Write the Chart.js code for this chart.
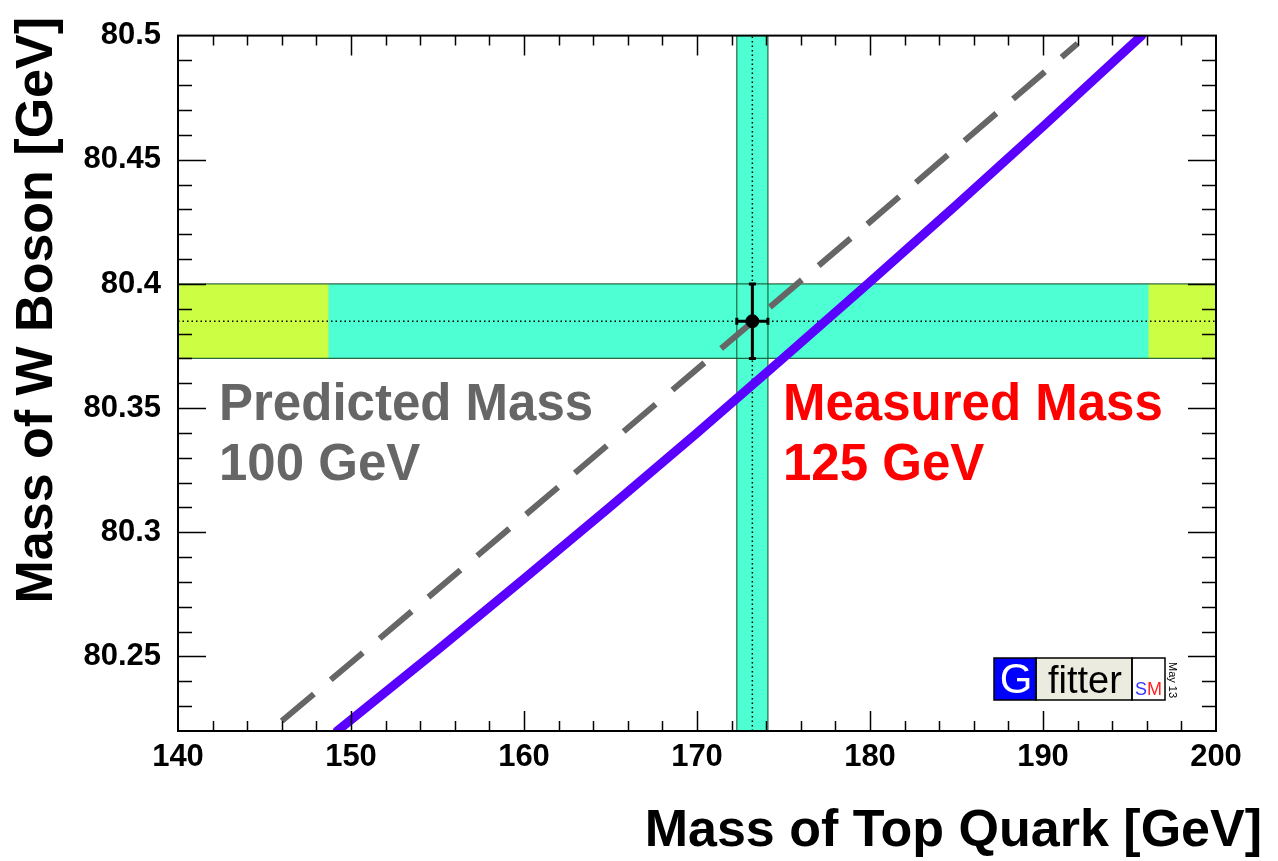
<!DOCTYPE html>
<html>
<head>
<meta charset="utf-8">
<title>Mass of W Boson vs Mass of Top Quark</title>
<script src="https://cdn.jsdelivr.net/npm/chart.js@4.4.0/dist/chart.umd.min.js"></script>
<style>
  html, body { margin: 0; padding: 0; background: #fff; }
  #wrap { width: 1278px; height: 861px; }
</style>
</head>
<body>
<div id="wrap"><canvas id="mwmt" width="1278" height="861"></canvas></div>
<script>
// axis ranges and tick labels
var xRange = [140, 200];
var yRange = [80.22, 80.5];
var xTicks = [140, 150, 160, 170, 180, 190, 200];
var yTicks = [80.25, 80.3, 80.35, 80.4, 80.45, 80.5];

// measurements: [central value, uncertainty]
var topMeas = [173.2, 0.9];
var wMeas = [80.385, 0.015];
// x extent of the inner (cyan) part of the W band
var wBandInner = [148.7, 196.1];

// SM prediction for a 125 GeV Higgs
var mt125 = [149.2, 155, 160, 165, 170, 175, 180, 185, 190, 195.7];
var mw125 = [80.22, 80.2526, 80.2813, 80.3104, 80.34, 80.3702, 80.4008, 80.4318, 80.4634, 80.5];
// SM prediction for a 100 GeV Higgs
var mt100 = [146.0, 150, 160, 170, 180, 190, 192.0];
var mw100 = [80.224, 80.2475, 80.3065, 80.3657, 80.425, 80.4848, 80.4968];

var FONT = '"Liberation Sans", Arial, Helvetica, sans-serif';
var cyan = '#4dffd2', lime = '#ccff44', edge = 'rgba(20,80,40,0.85)';

function pts(xs, ys){
  return xs.map(function(x, i){ return {x: x, y: ys[i]}; });
}
function box(x0, x1, y0, y1){
  return [{x:x0,y:y0},{x:x0,y:y1},{x:x1,y:y1},{x:x1,y:y0}];
}

var wLo = wMeas[0]-wMeas[1], wHi = wMeas[0]+wMeas[1];
var tLo = topMeas[0]-topMeas[1], tHi = topMeas[0]+topMeas[1];

function line(data, color, width, order, extra){
  var d = {data: data, showLine: true, borderColor: color, borderWidth: width,
           pointRadius: 0, fill: false, order: order};
  for (var k in extra) d[k] = extra[k];
  return d;
}

var datasets = [
  // measured point with error bars
  {data: [{x: topMeas[0], y: wMeas[0]}], pointRadius: 6.5, pointBackgroundColor: '#000',
   pointBorderColor: '#000', order: 0},
  line(pts([topMeas[0], topMeas[0]], [wLo, wHi]), '#000', 3, 1,
       {pointStyle: 'line', pointRadius: 3.5, pointBorderWidth: 3, pointBorderColor: '#000'}),
  line(pts([tLo, tHi], [wMeas[0], wMeas[0]]), '#000', 3, 1,
       {pointStyle: 'line', pointRadius: 3.5, pointBorderWidth: 3, pointBorderColor: '#000', pointRotation: 90}),
  // predictions
  line(pts(mt125, mw125), '#5a00ff', 9, 2, {borderCapStyle: 'round'}),
  line(pts(mt100, mw100), '#666666', 6, 3, {borderDash: [42, 22]}),
  // central values, dotted
  line(pts(xRange, [wMeas[0], wMeas[0]]), '#000', 1.5, 4, {borderDash: [1.5, 3]}),
  line(pts([topMeas[0], topMeas[0]], yRange), '#000', 1.5, 4, {borderDash: [1.5, 3]}),
  // band edges
  line(pts(xRange, [wHi, wHi]), edge, 1.2, 5),
  line(pts(xRange, [wLo, wLo]), edge, 1.2, 5),
  line(pts([tLo, tLo], yRange), edge, 1.2, 5),
  line(pts([tHi, tHi], yRange), edge, 1.2, 5),
  // band fills
  line(box(tLo, tHi, yRange[0], yRange[1]), 'rgba(0,0,0,0)', 0, 6, {fill: 'shape', backgroundColor: cyan}),
  line(box(wBandInner[0], wBandInner[1], wLo, wHi), 'rgba(0,0,0,0)', 0, 7, {fill: 'shape', backgroundColor: cyan}),
  line(box(xRange[0], xRange[1], wLo, wHi), 'rgba(0,0,0,0)', 0, 8, {fill: 'shape', backgroundColor: lime})
];

// ROOT-style frame with inward ticks on all four sides
var frameTicks = {
  id: 'frameTicks',
  afterDatasetsDraw: function(chart){
    var ctx = chart.ctx, a = chart.chartArea, xs = chart.scales.x, ys = chart.scales.y;
    ctx.save();
    ctx.strokeStyle = '#000';
    ctx.lineWidth = 1.5;
    ctx.beginPath();
    for (var v = xRange[0] + 2; v < xRange[1]; v += 2) {
      var px = Math.round(xs.getPixelForValue(v)) + 0.5;
      var len = (v % 10 === 0) ? 20 : 10;
      ctx.moveTo(px, a.bottom); ctx.lineTo(px, a.bottom - len);
      ctx.moveTo(px, a.top); ctx.lineTo(px, a.top + len);
    }
    for (var k = 23; k < 50; k++) {
      var py = Math.round(ys.getPixelForValue(80 + k / 100)) + 0.5;
      var l = (k % 5 === 0) ? 28 : 14;
      ctx.moveTo(a.left, py); ctx.lineTo(a.left + l, py);
      ctx.moveTo(a.right, py); ctx.lineTo(a.right - l, py);
    }
    ctx.stroke();
    ctx.lineWidth = 2;
    ctx.strokeRect(a.left, a.top, a.right - a.left, a.bottom - a.top);
    ctx.restore();
  }
};

// axis titles, annotations and the Gfitter badge
var texts = {
  id: 'texts',
  afterDraw: function(chart){
    var ctx = chart.ctx;
    ctx.save();
    ctx.fillStyle = '#000';
    ctx.font = 'bold 52px ' + FONT;
    ctx.textBaseline = 'alphabetic';
    ctx.textAlign = 'right';
    ctx.fillText('Mass of Top Quark [GeV]', 1262, 846);
    ctx.save();
    ctx.translate(52, 17);
    ctx.rotate(-Math.PI / 2);
    ctx.fillText('Mass of W Boson [GeV]', 0, 0);
    ctx.restore();

    ctx.textAlign = 'left';
    ctx.font = 'bold 51px ' + FONT;
    ctx.fillStyle = '#666666';
    ctx.fillText('Predicted Mass', 219, 420);
    ctx.fillText('100 GeV', 219, 480);
    ctx.fillStyle = '#ff0000';
    ctx.fillText('Measured Mass', 783, 420);
    ctx.fillText('125 GeV', 783, 480);

    // badge
    ctx.fillStyle = '#0000ff'; ctx.fillRect(994, 658, 42, 42);
    ctx.fillStyle = '#ebebdf'; ctx.fillRect(1036, 658, 96, 42);
    ctx.fillStyle = '#ffffff'; ctx.fillRect(1132, 658, 33, 42);
    ctx.strokeStyle = '#000'; ctx.lineWidth = 1.5;
    ctx.strokeRect(994, 658, 42, 42);
    ctx.strokeRect(1036, 658, 96, 42);
    ctx.strokeRect(1132, 658, 33, 42);
    ctx.textAlign = 'center';
    ctx.fillStyle = '#fff'; ctx.font = '42px ' + FONT;
    ctx.fillText('G', 1016, 693);
    ctx.textAlign = 'left';
    ctx.fillStyle = '#000'; ctx.font = '38px ' + FONT;
    ctx.fillText('fitter', 1048, 693);
    ctx.font = '18px ' + FONT;
    ctx.fillStyle = '#3333ff'; ctx.fillText('S', 1135, 695);
    var sw = ctx.measureText('S').width;
    ctx.fillStyle = '#ff2222'; ctx.fillText('M', 1135 + sw, 695);
    ctx.fillStyle = '#000'; ctx.font = '11px ' + FONT;
    ctx.translate(1169, 662);
    ctx.rotate(Math.PI / 2);
    ctx.fillText('May 13', 0, 0);
    ctx.restore();
  }
};

var tickFont = {family: FONT, size: 31, weight: 'bold'};

new Chart(document.getElementById('mwmt'), {
  type: 'scatter',
  data: {datasets: datasets},
  options: {
    responsive: false,
    animation: false,
    layout: {padding: {left: 0, right: 62, top: 35, bottom: 0}},
    plugins: {legend: {display: false}, tooltip: {enabled: false}},
    scales: {
      x: {
        type: 'linear', min: xRange[0], max: xRange[1],
        grid: {display: false, drawTicks: false},
        border: {display: false},
        afterBuildTicks: function(s){ s.ticks = xTicks.map(function(v){ return {value: v}; }); },
        afterFit: function(s){ s.height = 130; },
        ticks: {font: tickFont, color: '#000', padding: 8, maxRotation: 0, autoSkip: false,
                callback: function(v){ return String(v); }}
      },
      y: {
        type: 'linear', min: yRange[0], max: yRange[1],
        grid: {display: false, drawTicks: false},
        border: {display: false},
        afterBuildTicks: function(s){ s.ticks = yTicks.map(function(v){ return {value: v}; }); },
        afterFit: function(s){ s.width = 178; },
        ticks: {font: tickFont, color: '#000', padding: 17, autoSkip: false,
                callback: function(v){ return String(parseFloat(v.toFixed(2))); }}
      }
    }
  },
  plugins: [frameTicks, texts]
});
</script>
</body>
</html>
